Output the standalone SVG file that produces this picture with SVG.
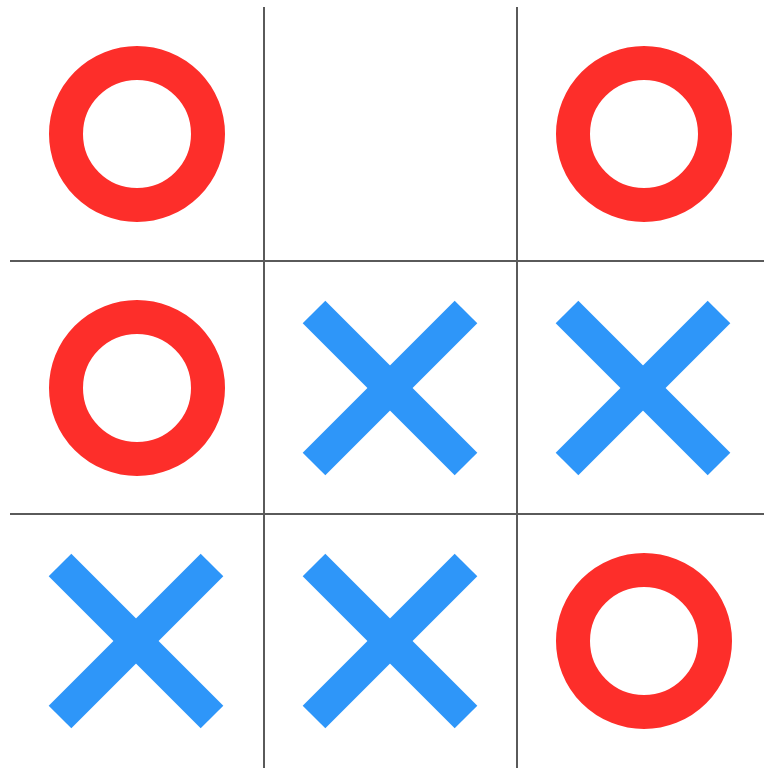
<svg xmlns="http://www.w3.org/2000/svg" width="764" height="768" viewBox="0 0 764 768">
<defs>
<style>
.grid{stroke:#5a5a5a;stroke-width:2;fill:none}
.o{fill:none;stroke:#fd2e2a;stroke-width:34}
.x{stroke:#2e96f9;stroke-width:32;stroke-linecap:butt}
</style>
<g id="xmark"><line class="x" x1="-76" y1="-76" x2="76" y2="76"/><line class="x" x1="76" y1="-76" x2="-76" y2="76"/></g>
</defs>
<rect width="764" height="768" fill="#fff"/>
<g id="grid">
<line class="grid" x1="264" y1="7" x2="264" y2="768"/>
<line class="grid" x1="517" y1="7" x2="517" y2="768"/>
<line class="grid" x1="10" y1="261" x2="764" y2="261"/>
<line class="grid" x1="10" y1="514" x2="764" y2="514"/>
</g>
<g id="cell-r1c1"><circle class="o" cx="137" cy="134" r="71"/></g>
<g id="cell-r1c3"><circle class="o" cx="644" cy="134" r="71"/></g>
<g id="cell-r2c1"><circle class="o" cx="137" cy="388" r="71"/></g>
<g id="cell-r2c2"><use href="#xmark" x="390" y="388"/></g>
<g id="cell-r2c3"><use href="#xmark" x="643" y="388"/></g>
<g id="cell-r3c1"><use href="#xmark" x="136" y="641"/></g>
<g id="cell-r3c2"><use href="#xmark" x="390" y="641"/></g>
<g id="cell-r3c3"><circle class="o" cx="644" cy="641" r="71"/></g>
</svg>
